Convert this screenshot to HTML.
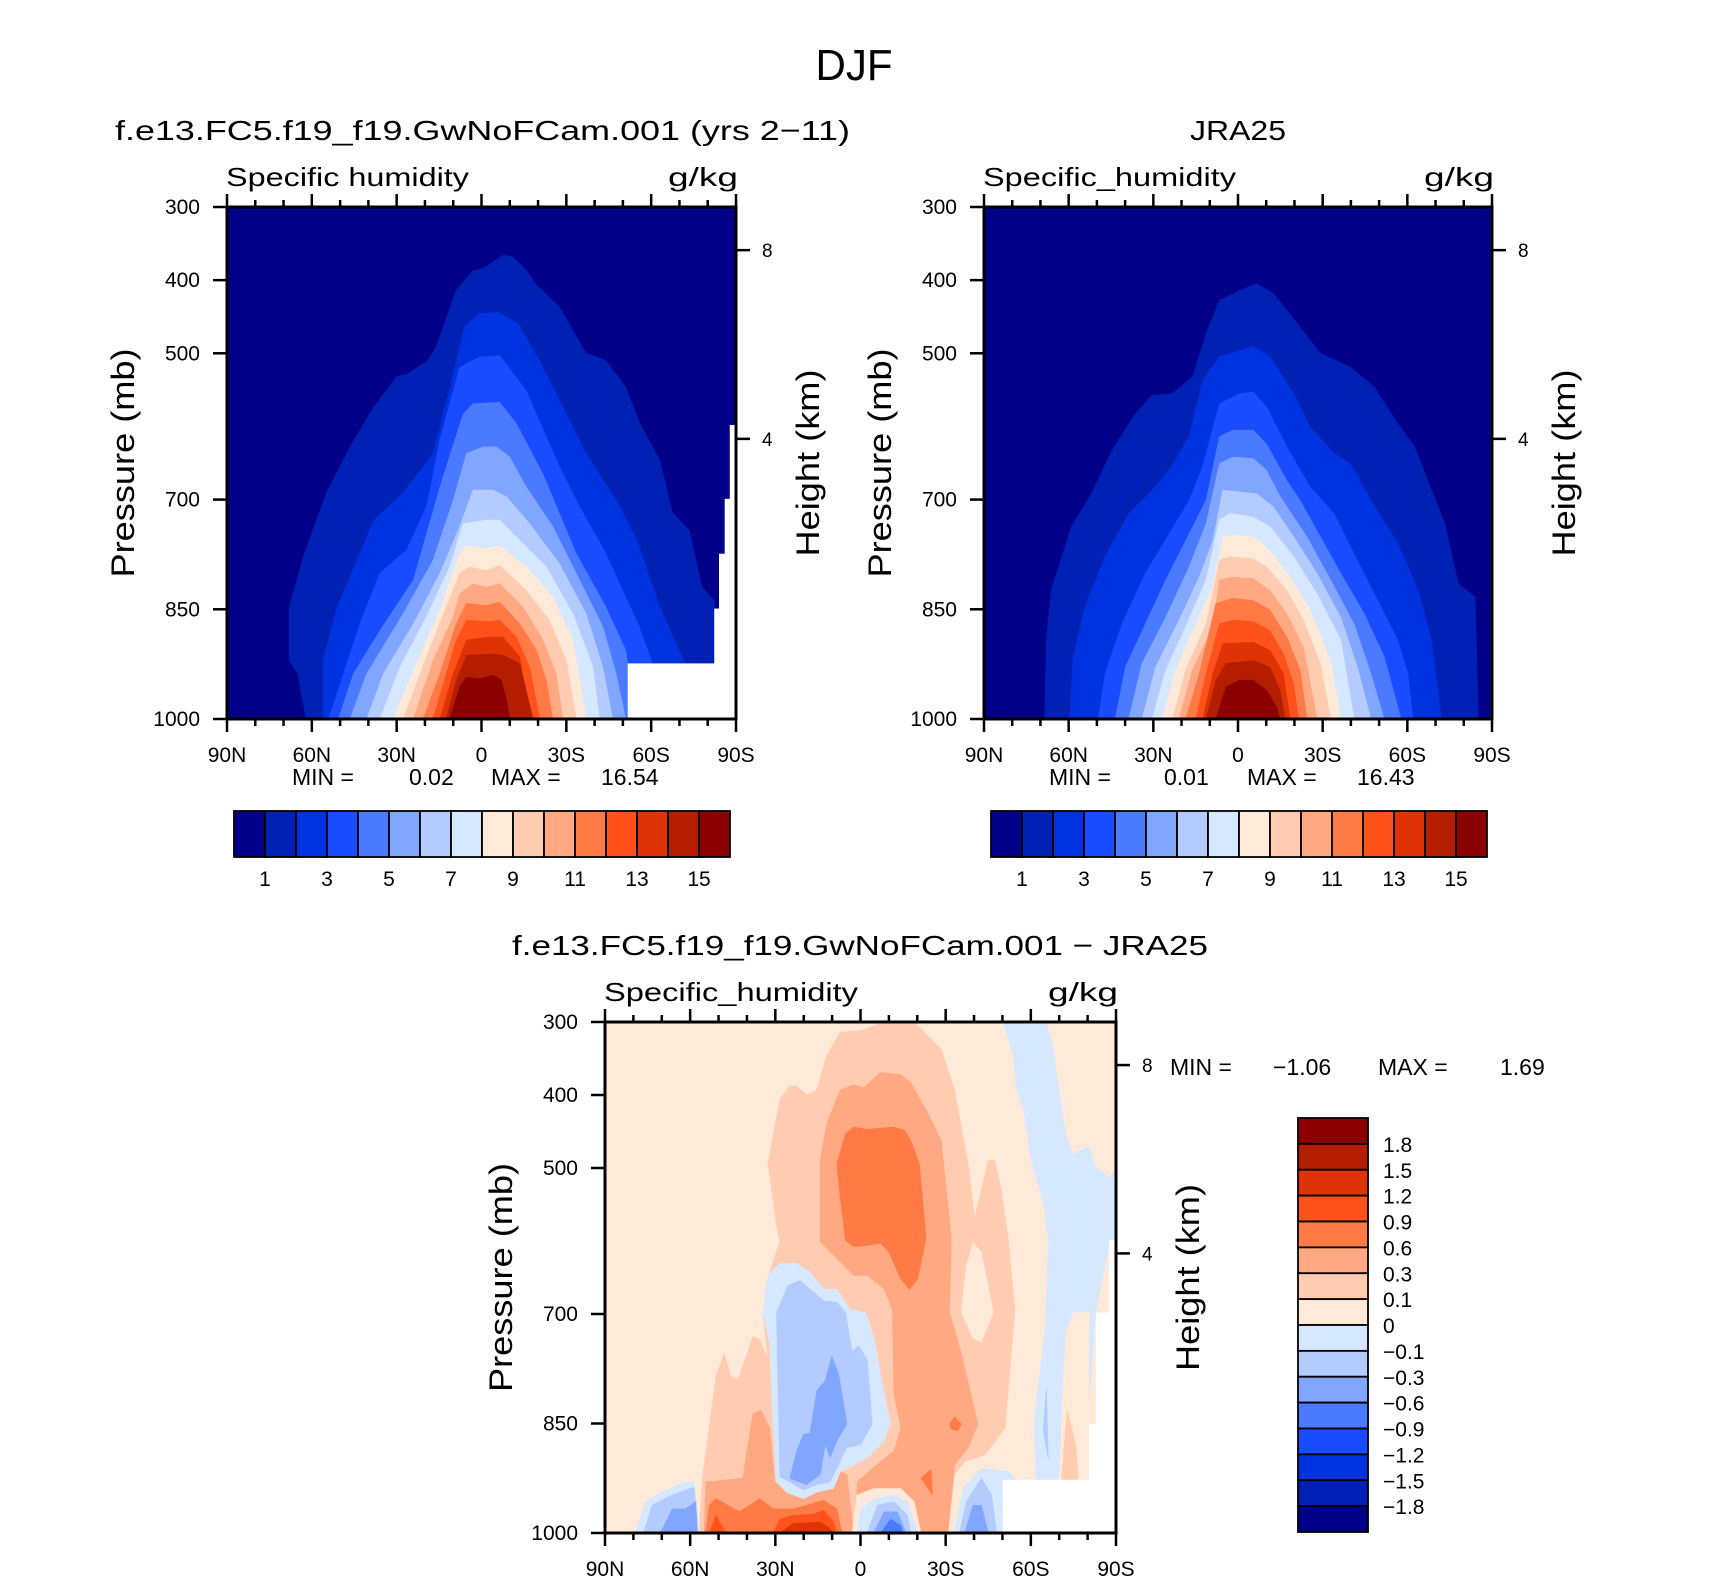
<!DOCTYPE html>
<html><head><meta charset="utf-8"><title>DJF Specific humidity</title>
<style>
html,body{margin:0;padding:0;background:#fff;}
svg{display:block;font-family:"Liberation Sans",sans-serif;}
</style></head>
<body>
<svg id="fig" width="1710" height="1581" viewBox="0 0 1710 1581" xmlns="http://www.w3.org/2000/svg">
<rect x="0" y="0" width="1710" height="1581" fill="#fff"/>
<text x="854" y="80" font-size="44" text-anchor="middle" textLength="77" lengthAdjust="spacingAndGlyphs">DJF</text>
<text x="115" y="140" font-size="28" textLength="735" lengthAdjust="spacingAndGlyphs">f.e13.FC5.f19_f19.GwNoFCam.001 (yrs 2−11)</text>
<text x="1190" y="140" font-size="28" textLength="96" lengthAdjust="spacingAndGlyphs">JRA25</text>
<text x="512" y="955" font-size="28" textLength="696" lengthAdjust="spacingAndGlyphs">f.e13.FC5.f19_f19.GwNoFCam.001 − JRA25</text>
<g id="panels"></g>
</svg>
<script>
// ---------- data ----------
const palette = ['#020088','#0021b3','#0033e0','#1a4cff','#4a7aff','#80a6ff','#b3cbff','#d6e8ff','#ffe9d8','#ffcbb1','#ffa882','#ff7a45','#ff521a','#e03305','#b31e00','#8b0000'];
const latTicks = [90,60,30,0,-30,-60,-90];
const latTickLabels = ['90N','60N','30N','0','30S','60S','90S'];
const presTicks = [300,400,500,700,850,1000];
const heightTicksKm = ['8','4'];
const heightTicksP = [359,617];
const topCbarLabels = ['1','3','5','7','9','11','13','15'];
const diffCbarLabels = ['1.8','1.5','1.2','0.9','0.6','0.3','0.1','0','−0.1','−0.3','−0.6','−0.9','−1.2','−1.5','−1.8'];

// model: each level = [colorIndex, [[lat, pressure], ...]]
const modelLevels = [
[1,[[62,1000],[65,938],[68,920],[68,847],[63,778],[55,692],[46.5,628],[38,573],[30,532],[26,528],[19,510],[16,491],[9,414],[3,387],[-0.6,384],[-7.6,366],[-11,368],[-16,387],[-19,405],[-27.6,437],[-37,500],[-44,510],[-51,546],[-56,596],[-63,646],[-67.6,719],[-73.5,742],[-78,820],[-82.3,838],[-82.3,1000]]],
[2,[[56,1000],[56,920],[51,847],[38,728],[28,692],[17,637],[11,546],[6,464],[1,446],[-6,444],[-13,460],[-21,514],[-37,637],[-49,710],[-55,756],[-63,847],[-72,924],[-75,1000]]],
[3,[[54,1000],[48.8,938],[43,870],[36,801],[26.5,769],[19.4,710],[14.7,619],[7.7,519],[0.6,505],[-6.4,503],[-15.8,551],[-27.6,655],[-34.7,710],[-44,774],[-55.8,874],[-61.7,938],[-64,1000]]],
[4,[[50.6,1000],[45.3,938],[35.9,879],[24.1,810],[14.7,683],[6.5,583],[3,569],[-6.4,567],[-12.3,596],[-21.7,665],[-33.5,774],[-44,847],[-51,906],[-54.6,1000]]],
[5,[[46.5,1000],[40.6,938],[27.7,856],[17.1,783],[10,701],[5.3,637],[-0.6,628],[-5.3,628],[-10,642],[-15.8,683],[-25.2,737],[-33.5,801],[-42.9,874],[-47.6,938],[-51,1000]]],
[6,[[40.6,1000],[34.7,938],[24.1,870],[14.7,801],[7.7,737],[3,687],[-4.1,687],[-8.8,696],[-17,733],[-27.6,788],[-37,856],[-42.9,929],[-46.4,1000]]],
[7,[[35.9,1000],[28.8,929],[19.4,860],[11.2,792],[6.5,733],[-1.7,728],[-6.4,728],[-13.5,756],[-22.9,792],[-32.3,856],[-39.4,929],[-41.7,1000]]],
[8,[[31.2,1000],[23,924],[14.7,851],[7.7,774],[5.3,763],[-1.7,767],[-6.4,763],[-15.8,792],[-25.2,833],[-32.3,892],[-37,1000]]],
[9,[[27.7,1000],[19.4,915],[12.4,847],[7.7,801],[4.2,792],[-1.7,797],[-6.4,790],[-15.8,824],[-24,865],[-30,920],[-33.5,1000]]],
[10,[[24.1,1000],[17.1,920],[10,861],[7.7,829],[3,815],[-1.7,820],[-6.4,815],[-14.7,847],[-21.7,892],[-26.4,938],[-28.8,1000]]],
[11,[[20.6,1000],[14.7,938],[8.9,870],[5.3,842],[-1.7,845],[-6.4,840],[-13.5,870],[-19.4,906],[-22.9,947],[-25.2,1000]]],
[12,[[17.1,1000],[12.4,938],[8.9,892],[5.3,865],[-2.9,867],[-6.4,865],[-12.3,888],[-17,929],[-20.6,1000]]],
[13,[[14.7,1000],[10,938],[5.3,892],[-2.9,888],[-7.6,888],[-13.5,915],[-17,1000]]],
[14,[[12.4,1000],[8.9,947],[5.3,913],[-2.9,911],[-7.6,913],[-13.5,924],[-15.8,961],[-18.2,1000]]],
[15,[[11.2,1000],[7.7,956],[5.3,943],[0.6,945],[-4.1,940],[-7,947],[-8.8,974],[-10,1000]]]
];
// missing-data columns: [latFrom, latTo, topPressure]
const modelMissing = [[-51.7,-82.3,924],[-82.3,-84,849],[-84,-86,774],[-86,-87.8,699],[-87.8,-90,598]];

const obsLevels = [
[1,[[68.5,1000],[67.9,892],[66.2,824],[59,737],[51.9,692],[44.7,633],[36.4,583],[30.4,557],[23.2,555],[16.1,532],[11.3,473],[6.6,428],[-0.6,414],[-6.6,405],[-12.5,418],[-22,464],[-29.2,500],[-39.9,519],[-48.3,546],[-56.6,596],[-62.6,628],[-67.3,674],[-73.3,733],[-78.1,815],[-84,833],[-85.2,1000]]],
[2,[[59.6,1000],[58.4,915],[54.2,847],[47.1,778],[38.7,719],[30.4,687],[24.4,660],[17.3,614],[12.5,537],[6.6,505],[-5.4,491],[-11.3,505],[-19.7,555],[-25.6,601],[-34,637],[-39.9,651],[-47.1,701],[-56.6,760],[-63.8,824],[-68.5,892],[-72.1,1000]]],
[3,[[49.5,1000],[47.1,938],[41.1,870],[32.8,801],[24.4,747],[17.3,701],[12.5,655],[6.6,569],[-0.6,555],[-5.4,553],[-10.1,573],[-17.3,628],[-25.6,683],[-34,719],[-41.1,774],[-48.3,829],[-56.6,892],[-60.2,938],[-62,1000]]],
[4,[[43.5,1000],[39.9,929],[32.8,870],[25.6,810],[18.5,756],[11.3,701],[6.6,614],[1.8,605],[-5.4,605],[-10.1,624],[-17.3,674],[-22,701],[-29.2,751],[-36.4,801],[-44.7,856],[-51.8,915],[-57.8,1000]]],
[5,[[38.7,1000],[34,924],[25.6,861],[17.3,792],[11.3,733],[6.6,651],[1.8,642],[-5.4,644],[-10.1,660],[-14.9,696],[-24.4,751],[-32.8,810],[-41.1,870],[-47.1,938],[-51.8,1000]]],
[6,[[34,1000],[29.2,929],[20.9,865],[13.7,806],[8.9,756],[5.4,687],[-1.8,690],[-6.6,692],[-12.5,710],[-19.7,751],[-28,801],[-36.4,861],[-42.3,929],[-47.1,1000]]],
[7,[[30.4,1000],[25.6,933],[18.5,874],[11.3,810],[6.6,728],[3,719],[-5.4,724],[-11.3,737],[-19.7,778],[-28,829],[-36.4,892],[-41.1,1000]]],
[8,[[26.8,1000],[22,933],[14.9,870],[8.9,819],[5.4,751],[1.8,749],[-5.4,751],[-10.1,765],[-18.5,806],[-25.6,851],[-32.8,920],[-36.4,1000]]],
[9,[[23.2,1000],[18.5,933],[11.3,870],[6.6,783],[3,778],[-5.4,781],[-10.1,792],[-17.3,824],[-23.2,865],[-29.2,924],[-32.8,1000]]],
[10,[[20.9,1000],[16.1,933],[8.9,874],[6.6,810],[1.8,806],[-5.4,808],[-11.3,824],[-17.3,856],[-23.2,902],[-28,1000]]],
[11,[[18.5,1000],[13.7,938],[7.8,842],[1.8,835],[-5.4,838],[-11.3,851],[-17.3,888],[-22,933],[-24.4,1000]]],
[12,[[14.9,1000],[11.3,938],[6.6,870],[1.8,865],[-5.4,867],[-11.3,879],[-16.1,911],[-19.7,952],[-21.5,1000]]],
[13,[[12.5,1000],[8.9,938],[5.4,897],[-5.4,895],[-11.3,906],[-16.1,938],[-18.5,1000]]],
[14,[[11.3,1000],[7.8,947],[4.2,924],[-5.4,920],[-11.3,929],[-14.9,961],[-16.7,1000]]],
[15,[[7.8,1000],[4.2,956],[-0.6,947],[-5.4,947],[-10.1,961],[-13.7,984],[-14.9,1000]]]
];
const obsMissing = [];

const diffRegions = [
[9,[[56.8,1000],[55.7,925],[50.9,786],[48,754],[45.6,786],[43.2,791],[37.9,731],[35.5,735],[32.6,763],[34.4,698],[32,643],[28.4,601],[29.6,578],[32.6,494],[28.4,406],[24.9,388],[22.5,388],[19,400],[15.4,393],[11.9,346],[7.1,314],[0,312],[-8.3,300],[-18.9,300],[-28.4,337],[-33.1,393],[-37.9,494],[-40.2,569],[-45,490],[-47.3,490],[-49.7,532],[-52.1,601],[-54.4,694],[-50.9,856],[-43.8,893],[-36.7,902],[-33.1,920],[-30.8,1000]]],
[8,[[-37.3,633],[-39.6,603],[-42.6,615],[-46.8,698],[-42.6,738],[-39.6,733],[-35.5,698]]],
[10,[[14.2,490],[11.9,439],[7.1,393],[2.4,386],[-1.2,390],[-7.1,369],[-14.2,372],[-17.7,383],[-23.7,425],[-28.4,462],[-32,596],[-31.4,698],[-35.5,754],[-41.4,851],[-37.9,883],[-33.1,907],[-30.8,1000],[1.2,1000],[1.2,930],[-7.1,902],[-11.8,888],[-14.2,856],[-11.8,809],[-11.2,694],[-8.3,666],[-2.4,647],[2.4,647],[8.3,624],[14.2,601]]],
[10,[[55.1,1000],[54.5,930],[41.5,925],[37.9,837],[34.9,832],[32,856],[30.2,930],[24.9,948],[19,948],[13,939],[7.1,916],[4.8,920],[2.4,1000]]],
[11,[[8.3,494],[5.3,453],[2.4,444],[-2.4,447],[-11.8,444],[-15.4,448],[-17.7,462],[-20.7,494],[-23.1,596],[-20.1,652],[-17.2,666],[-14.2,652],[-10,615],[-7.1,603],[-2.4,606],[2.4,608],[5.3,599],[7.1,541]]],
[11,[[-31.4,851],[-33.1,841],[-35.5,851],[-34.3,860],[-32,858]]],
[11,[[-21.3,925],[-24.8,913],[-25.4,948]]],
[11,[[54.5,1000],[53.3,962],[50.9,953],[42.6,971],[35.5,953],[30.8,967],[23.7,967],[19,962],[13,955],[8.3,967],[6.5,1000]]],
[12,[[53.3,1000],[50.9,976],[47.4,1000]]],
[12,[[30.8,1000],[28.4,981],[23.7,976],[16.6,974],[13,969],[9.5,985],[8.3,1000]]],
[13,[[28.4,1000],[23.7,987],[14.2,985],[10.7,994],[9.5,1000]]],
[7,[[34.4,698],[32.6,647],[28.4,631],[22.5,631],[17.8,643],[13,666],[8.3,666],[3.6,694],[-1.8,698],[-4.7,731],[-8.3,809],[-10.6,849],[-8.3,874],[-2.4,897],[2.4,907],[7.1,916],[9.5,939],[15.4,944],[20.1,953],[26.1,944],[29.6,930],[30.8,856],[32,740]]],
[6,[[29.6,698],[25.5,661],[21.3,654],[13,682],[8.3,684],[5.3,698],[3,751],[0.6,744],[-2.4,763],[-4.1,851],[0,879],[4.8,883],[8.3,911],[10.7,930],[15.4,934],[20.1,941],[24.9,930],[28.4,923],[29,809]]],
[5,[[24.9,925],[22.5,888],[20.1,865],[17.8,863],[15.4,805],[12.4,791],[10.1,758],[7.7,782],[4.8,851],[8.3,874],[10.7,897],[12.4,879],[14.2,920],[19,934]]],
[7,[[79.3,1000],[75.8,957],[69.9,944],[61.6,930],[58.6,930],[56.8,1000]]],
[6,[[76.4,1000],[73.4,962],[66.3,948],[58.6,937],[57.4,1000]]],
[5,[[70.5,1000],[66.3,967],[61.6,967],[58,957],[57.4,1000]]],
[8,[[3,1000],[1.2,948],[-4.7,939],[-14.2,939],[-18.9,957],[-21.3,1000]]],
[7,[[1.2,1000],[0,967],[-4.7,953],[-11.8,948],[-16.6,957],[-20.1,1000]]],
[6,[[-2.4,1000],[-5.9,962],[-11.8,957],[-16.6,976],[-17.7,1000]]],
[5,[[-4.7,1000],[-8.3,971],[-13,971],[-16,1000]]],
[4,[[-7.1,1000],[-10.6,981],[-14.2,990],[-14.8,1000]]],
[8,[[-31.5,1000],[-34.5,930],[-42.6,905],[-52.5,912],[-56,930],[-51,1000]]],
[7,[[-33.1,1000],[-36.1,939],[-42.6,911],[-52.1,916],[-55.6,930],[-50.3,1000]]],
[6,[[-34.9,1000],[-37.3,957],[-42.6,925],[-46.2,948],[-47.9,1000]]],
[5,[[-36.7,1000],[-39.6,962],[-42.6,962],[-45,1000]]],
[7,[[-50.3,300],[-65.1,300],[-67.5,328],[-72.2,453],[-74.6,481],[-80.5,471],[-82.9,499],[-87.6,513],[-90,504],[-90,596],[-87.6,601],[-82.9,698],[-79.9,851],[-78.1,1000],[-62.7,1000],[-61,851],[-65.1,717],[-66.3,601],[-64.5,550],[-60.4,494],[-57.4,420],[-55,393],[-53.9,346]]],
[8,[[-69.2,1000],[-72.2,726],[-75.2,698],[-80.5,698],[-80.5,1000]]],
[9,[[-69.2,1000],[-72.8,832],[-75.8,879],[-78.1,1000]]],
[6,[[-64.4,860],[-65.5,800],[-66.2,900]]]
];
const diffMissing = [[-50.1,-80.5,927],[-80.5,-82.9,851],[-82.9,-87.6,698],[-87.6,-90,599]];

// ---------- drawing ----------
const NS='http://www.w3.org/2000/svg';
const root=document.getElementById('panels');
function mk(tag, attrs, parent){const e=document.createElementNS(NS,tag);for(const k in attrs)e.setAttribute(k,attrs[k]);(parent||root).appendChild(e);return e;}
function txt(str, attrs, parent){const e=mk('text',attrs,parent);e.textContent=str;return e;}

function drawPanel(cfg){
  const {key,x0,y0,w,h,bg,regions,missing}=cfg;
  const X=lat=>x0+(90-lat)/180*w;
  const Y=p=>y0+(p-300)/700*h;
  const g=mk('g',{});
  
  
  const cp=mk('clipPath',{id:'clip-'+key},g);
  mk('rect',{x:x0,y:y0,width:w,height:h},cp);
  const fg=mk('g',{'clip-path':'url(#clip-'+key+')'},g);
  
  
  const bgr=mk('rect',{x:x0,y:y0,width:w,height:h,fill:palette[bg]},fg);
  
  
  regions.forEach((r,i)=>{
    const pts=r[1].map(q=>X(q[0]).toFixed(1)+','+Y(q[1]).toFixed(1)).join(' ');
    const pl=mk('polygon',{points:pts,fill:palette[r[0]],stroke:palette[r[0]],'stroke-width':0.6},fg);
    
    
  });
  missing.forEach(m=>{
    const mr=mk('rect',{x:X(m[0]),y:Y(m[2]),width:X(m[1])-X(m[0])+0.5,height:Y(1000)-Y(m[2]),fill:'#fff'},fg);
    
    
  });
  // ticks
  const ax=mk('g',{stroke:'#000','stroke-width':2.5},g);
  
  
  for(let lat=90;lat>=-90;lat-=10){
    const major=(lat%30===0);
    const L=major?13:7;
    mk('line',{x1:X(lat),x2:X(lat),y1:y0+h,y2:y0+h+L},ax);
    mk('line',{x1:X(lat),x2:X(lat),y1:y0,y2:y0-L},ax);
  }
  presTicks.forEach(p=>mk('line',{x1:x0-14,x2:x0,y1:Y(p),y2:Y(p)},ax));
  heightTicksP.forEach(p=>mk('line',{x1:x0+w,x2:x0+w+14,y1:Y(p),y2:Y(p)},ax));
  mk('rect',{x:x0,y:y0,width:w,height:h,fill:'none','stroke-width':3},ax);
  // labels
  latTicks.forEach((lat,i)=>{
    const t=txt(latTickLabels[i],{x:X(lat),y:y0+h+43,'font-size':21,'text-anchor':'middle'},g);
    
    
  });
  presTicks.forEach(p=>{
    const t=txt(String(p),{x:x0-27,y:Y(p)+7,'font-size':21,'text-anchor':'end'},g);
    
    
  });
  heightTicksP.forEach((p,i)=>{
    const t=txt(heightTicksKm[i],{x:x0+w+26,y:Y(p)+7,'font-size':19},g);
    
    
  });
  const yl=txt('Pressure (mb)',{x:0,y:0,'font-size':32,'text-anchor':'middle',textLength:229,lengthAdjust:'spacingAndGlyphs',transform:'translate('+(x0-93)+','+(y0+h/2)+') rotate(-90)'},g);
  
  
  const hl=txt('Height (km)',{x:0,y:0,'font-size':32,'text-anchor':'middle',textLength:187,lengthAdjust:'spacingAndGlyphs',transform:'translate('+(x0+w+83)+','+(y0+h/2)+') rotate(-90)'},g);
  
  
  const vl=txt(cfg.varName,{x:x0-1,y:y0-21,'font-size':26,textLength:cfg.varLen,lengthAdjust:'spacingAndGlyphs'},g);
  
  
  const ul=txt('g/kg',{x:x0+w+2,y:y0-21,'font-size':26,'text-anchor':'end',textLength:70,lengthAdjust:'spacingAndGlyphs'},g);
  
  
  // min/max
  cfg.stats.forEach(s=>{
    const t=txt(s[0],{x:s[1],y:s[2],'font-size':23},g);
    
    
  });
}

function hColorbar(key,x0,y0,w,h){
  const g=mk('g',{});
  
  
  const bw=w/palette.length;
  palette.forEach((c,i)=>{
    const r=mk('rect',{x:x0+i*bw,y:y0,width:bw,height:h,fill:c,stroke:'#000','stroke-width':1.8},g);
    
    
  });
  topCbarLabels.forEach((lab,j)=>{
    const t=txt(lab,{x:x0+(2*j+1)*bw,y:y0+h+29,'font-size':21,'text-anchor':'middle'},g);
    
    
  });
}
function vColorbar(key,x0,y0,w,h){
  const g=mk('g',{});
  
  
  const n=palette.length, bh=h/n;
  for(let i=0;i<n;i++){
    const r=mk('rect',{x:x0,y:y0+i*bh,width:w,height:bh,fill:palette[n-1-i],stroke:'#000','stroke-width':1.8},g);
    
    
  }
  diffCbarLabels.forEach((lab,j)=>{
    const t=txt(lab,{x:x0+w+15,y:y0+(j+1)*bh+8,'font-size':21},g);
    
    
  });
}

drawPanel({key:'model',x0:227,y0:207,w:509,h:512,bg:0,regions:modelLevels,missing:modelMissing,
  varName:'Specific humidity',varLen:243,
  stats:[['MIN  =',292,785],['0.02',409,785],['MAX  =',491,785],['16.54',601,785]]});
drawPanel({key:'obs',x0:984,y0:207,w:508,h:512,bg:0,regions:obsLevels,missing:obsMissing,
  varName:'Specific_humidity',varLen:253,
  stats:[['MIN  =',1049,785],['0.01',1164,785],['MAX  =',1247,785],['16.43',1357,785]]});
drawPanel({key:'diff',x0:605,y0:1022,w:511,h:511,bg:8,regions:diffRegions,missing:diffMissing,
  varName:'Specific_humidity',varLen:254,
  stats:[['MIN  =',1170,1075],['−1.06',1273,1075],['MAX  =',1378,1075],['1.69',1500,1075]]});
hColorbar('model',234,811,496,46);
hColorbar('obs',991,811,496,46);
vColorbar('diff',1298,1118,70,414);
</script>
</body></html>
